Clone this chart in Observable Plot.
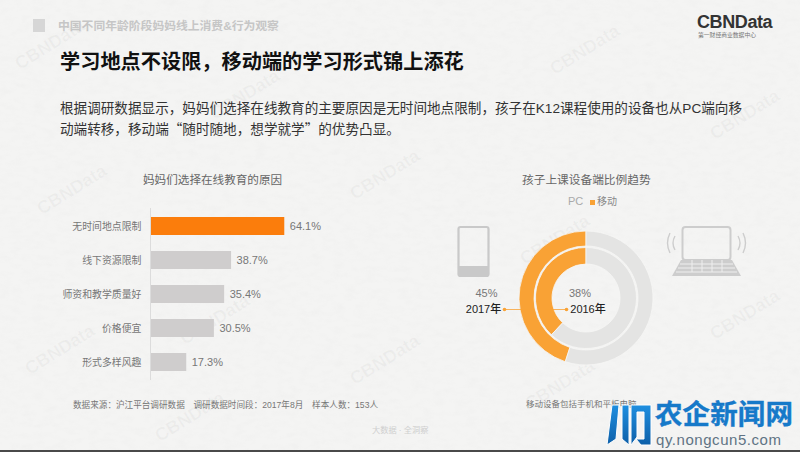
<!DOCTYPE html>
<html lang="zh">
<head>
<meta charset="utf-8">
<script src="https://cdn.jsdelivr.net/npm/d3@7"></script>
<script src="https://cdn.jsdelivr.net/npm/@observablehq/plot@0.6"></script>
<style>
html,body{margin:0;padding:0;background:#f4f4f3}
#page{position:relative;width:800px;height:452px;overflow:hidden;background:#f4f4f3;
 font-family:"Liberation Sans","Noto Sans CJK SC",sans-serif;color:#333}
#page>*{position:absolute}
.t{white-space:nowrap;line-height:1}
#paper{left:0;top:0}
.wm{font:bold 18px "Liberation Sans",sans-serif;color:rgba(120,120,120,.06);transform:translate(-50%,-50%) rotate(-32deg);white-space:nowrap}
.q{font-family:"Noto Sans CJK SC",sans-serif}
</style>
</head>
<body>
<div id="page">
<svg id="paper" width="800" height="452"><filter id="n" x="0" y="0" width="100%" height="100%"><feTurbulence type="fractalNoise" baseFrequency="0.09 0.18" numOctaves="4" seed="4"/><feColorMatrix values="0 0 0 0 0.55 0 0 0 0 0.55 0 0 0 0 0.55 0.5 0.5 0 0 -0.42"/></filter><rect width="800" height="452" filter="url(#n)" opacity="0.16"/></svg>
<div id="wms"></div>
<div style="left:33px;top:19px;width:12px;height:13px;background:#d6d6d6"></div>
<div class="t" style="left:58px;top:21px;font-size:11.8px;font-weight:700;color:#c6c6c6">中国不同年龄阶段妈妈线上消费&amp;行为观察</div>
<div class="t" style="left:60px;top:52px;font-size:20.2px;font-weight:700;color:#111">学习地点不设限，移动端的学习形式锦上添花</div>
<div style="left:60px;top:100px;width:700px;font-size:13.6px;line-height:18.5px;color:#333">根据调研数据显示，妈妈们选择在线教育的主要原因是无时间地点限制，孩子在K12课程使用的设备也从PC端向移<br>动端转移，移动端<span class="q">“</span>随时随地，想学就学<span class="q">”</span>的优势凸显。</div>
<div class="t" style="left:697px;top:13px;font-size:18px;font-weight:700;color:#333;letter-spacing:-.4px">CBNData</div>
<div class="t" style="left:698px;top:33px;font-size:5.8px;color:#777">第一财经商业数据中心</div>
<div class="t" style="left:143px;top:174px;font-size:11.6px;color:#666">妈妈们选择在线教育的原因</div>
<div class="t" style="left:522px;top:174px;font-size:11.7px;color:#666">孩子上课设备端比例趋势</div>
<div class="t" style="left:73px;top:401px;font-size:8.6px;color:#777;word-spacing:2px">数据来源：沪江平台调研数据&nbsp; 调研数据时间段：2017年8月&nbsp; 样本人数：153人</div>
<div class="t" style="left:526px;top:400px;font-size:8.5px;color:#777">移动设备包括手机和平板电脑</div>
<div class="t" style="left:372px;top:427px;font-size:8.2px;color:#cfcfcf">大数据 · 全洞察</div>
<div class="t" style="left:568px;top:196px;font-size:11px;color:#aaa">PC</div>
<div style="left:590px;top:200px;width:5px;height:5px;background:#f9a235"></div>
<div class="t" style="left:597px;top:197px;font-size:10px;color:#888">移动</div>
<div id="bars" style="left:0;top:208px"></div>
<div id="donut" style="left:436px;top:213px"></div>
<svg style="left:455px;top:224px" width="38" height="56"><rect x="3.5" y="3" width="30" height="49" rx="2" fill="none" stroke="#c9c9c9" stroke-width="2.2"/><rect x="3.5" y="42" width="30" height="10" fill="#c9c9c9"/></svg>
<svg style="left:664px;top:222px" width="84" height="58" fill="none" stroke="#cdcdcd"><rect x="18.5" y="5" width="48" height="33" rx="3" stroke-width="2"/><path d="M17 38H68L77 54H8Z" fill="#cdcdcd" stroke="none"/><path d="M16 42H69M14 46H71M12 50H73M28 38V50M38 38V50M48 38V50M58 38V50" stroke="#efefef" stroke-width="1"/><path d="M11 14Q7 21 11 28M6 11Q1 21 6 31M74 14Q78 21 74 28M79 11Q84 21 79 31" stroke-width="1.4"/></svg>
<svg style="left:605px;top:403px" width="48" height="45"><defs><linearGradient id="b" x1="0" y1="0" x2="0" y2="1"><stop offset="0" stop-color="#1f8fe0"/><stop offset="1" stop-color="#0d5fa8"/></linearGradient></defs><path d="M2 42L7 2H14L11 36ZM17 2H24V42L17 36ZM26 2H46V42H36L31 36H39V9H32V34L26 42Z" fill="url(#b)" stroke="#fff" stroke-width="1"/></svg>
<div class="t" style="left:655px;top:401px;font-size:27.5px;font-weight:700;color:#1679c9;text-shadow:0 0 1px #fff;-webkit-text-stroke:.4px #1679c9;letter-spacing:.1px">农企新闻网</div>
<div class="t" style="left:656px;top:432px;font-size:15px;color:#5f7384;letter-spacing:.55px;font-family:'Liberation Sans'">qy.nongcun5.com</div>
<div style="left:0;top:450px;width:800px;height:2px;background:#4a4a4a"></div>
</div>
<script>
const reasons = ["无时间地点限制", "线下资源限制", "师资和教学质量好", "价格便宜", "形式多样风趣"];
const reasonShares = [64.1, 38.7, 35.4, 30.5, 17.3];
const years = ["2016年", "2017年"];
const mobileShares = [38, 45];
const deviceColors = {PC: "#e4e4e3", 移动: "#f9a235"};
const watermarks = [[50,45],[245,95],[585,50],[745,115],[72,190],[385,175],[215,320],[385,360],[555,240],[745,315],[190,417],[560,385],[60,350]];

const font = '"Liberation Sans","Noto Sans CJK SC",sans-serif';
d3.select("#wms").selectAll("div").data(watermarks).join("div").attr("class","wm")
  .style("position","absolute").style("left",d=>d[0]+"px").style("top",d=>d[1]+"px").text("CBNData");

const barRows = reasons.map((reason, i) => ({reason, share: reasonShares[i], top: i === 0}));
document.getElementById("bars").append(Plot.plot({
  width: 340, height: 172,
  marginLeft: 150, marginRight: 0, marginTop: 0, marginBottom: 0,
  style: {background: "transparent", fontFamily: font, overflow: "visible"},
  x: {domain: [0, 90.7], axis: null},
  y: {domain: reasons, paddingInner: 0.477, paddingOuter: 0.233, axis: null},
  marks: [
    Plot.barX(barRows, {x: "share", y: "reason", fill: d => d.top ? "#fb7d0c" : "#cfcdcd"}),
    Plot.ruleX([0], {stroke: "#dcdcdc", strokeWidth: 1}),
    Plot.axisY({anchor: "left", tickSize: 0, tickPadding: 9, fontSize: 9.9, color: "#777", label: null}),
    Plot.text(barRows, {x: "share", y: "reason", text: d => d.share.toFixed(1) + "%", dx: 5, textAnchor: "start", fontSize: 11, fill: "#777"})
  ]
}));

const ringRadii = [[34, 50.5], [52, 67]];
const arcRows = years.flatMap((year, i) => [
  {year, device: "移动", from: -mobileShares[i] / 100, to: 0, ring: i},
  {year, device: "PC", from: 0, to: 1 - mobileShares[i] / 100, ring: i}
]);
function drawRings(index, scales, values, dimensions, context) {
  const g = d3.select(context.document.createElementNS(d3.namespaces.svg, "g"));
  const unit = scales.x(1) - scales.x(0);
  index.forEach(i => {
    const d = arcRows[i], [r0, r1] = ringRadii[d.ring];
    g.append("path")
      .attr("transform", `translate(${values.x[i]},${values.y[i]})`)
      .attr("d", d3.arc()({innerRadius: r0 * unit, outerRadius: r1 * unit, startAngle: d.from * 2 * Math.PI, endAngle: d.to * 2 * Math.PI}))
      .attr("fill", deviceColors[d.device])
      .attr("stroke", "#f6f6f5").attr("stroke-width", 0.8);
  });
  return g.node();
}
const orange = deviceColors["移动"];
const yearLabels = [
  {pct: mobileShares[0] + "%", year: years[0], x1: -41, x2: -20, end: -20},
  {pct: mobileShares[1] + "%", year: years[1], x1: -82, x2: -52, end: -82}
];
document.getElementById("donut").append(Plot.plot({
  width: 300, height: 170,
  margin: 0,
  style: {background: "transparent", fontFamily: font, overflow: "visible"},
  x: {domain: [-150, 150], axis: null},
  y: {domain: [85, -85], axis: null},
  marks: [
    Plot.dot(arcRows, {x: () => 0, y: () => 0, render: drawRings}),
    Plot.ruleY(yearLabels, {y: () => 11, x1: "x1", x2: "x2", stroke: orange, strokeWidth: 0.8}),
    Plot.dot(yearLabels, {x: "end", y: () => 11, r: 1.8, fill: orange}),
    Plot.text([yearLabels[0]], {x: () => 0, y: () => 0, dx: -6.5, dy: -5, text: "pct", fontSize: 11, fill: "#777"}),
    Plot.text([yearLabels[1]], {x: () => 0, y: () => 0, dx: -100, dy: -5, text: "pct", fontSize: 11, fill: "#777"}),
    Plot.text([yearLabels[0]], {x: () => 0, y: () => 0, dx: 1.5, dy: 11, text: "year", fontSize: 11, fontWeight: 500, fill: "#222"}),
    Plot.text([yearLabels[1]], {x: () => 0, y: () => 0, dx: -103, dy: 11, text: "year", fontSize: 11, fontWeight: 500, fill: "#222"})
  ]
}));
</script>
</body>
</html>
